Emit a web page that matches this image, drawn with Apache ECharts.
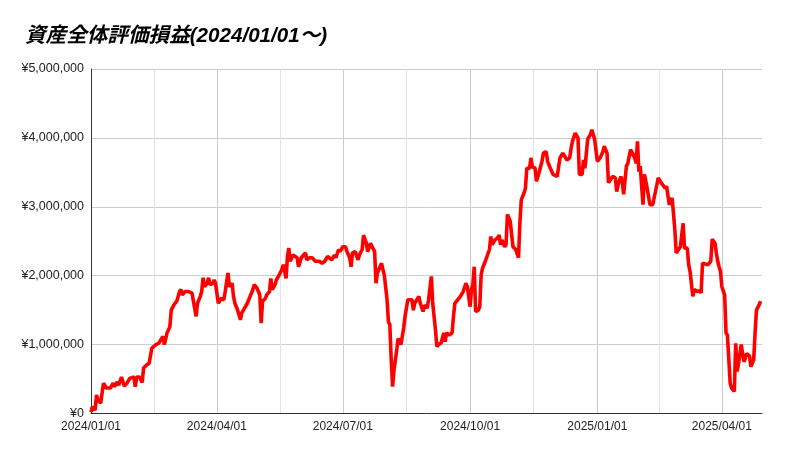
<!DOCTYPE html>
<html>
<head>
<meta charset="utf-8">
<script src="https://cdn.jsdelivr.net/npm/echarts@6/dist/echarts.min.js"></script>
<style>
html,body{margin:0;padding:0;background:#fff;}
#c{width:785px;height:457px;}
</style>
</head>
<body>
<div id="c"></div>
<script>
const titleText = '資産全体評価損益(2024/01/01～)';

const dates = [
'2024-01-01','2024-01-02','2024-01-04','2024-01-05','2024-01-06','2024-01-08','2024-01-10','2024-01-12','2024-01-13','2024-01-15','2024-01-17','2024-01-18','2024-01-20','2024-01-21','2024-01-23','2024-01-25','2024-01-27','2024-01-29',
'2024-02-01','2024-02-02','2024-02-03','2024-02-05','2024-02-07','2024-02-08','2024-02-10','2024-02-12','2024-02-14','2024-02-15','2024-02-17','2024-02-19','2024-02-20','2024-02-22','2024-02-23','2024-02-25','2024-02-27','2024-02-28',
'2024-03-01','2024-03-03','2024-03-05','2024-03-06','2024-03-07','2024-03-09','2024-03-11','2024-03-12','2024-03-14','2024-03-15','2024-03-17','2024-03-18','2024-03-20','2024-03-21','2024-03-22','2024-03-23','2024-03-25','2024-03-26','2024-03-27','2024-03-29','2024-03-30','2024-03-31',
'2024-04-02','2024-04-04','2024-04-06','2024-04-07','2024-04-09','2024-04-10','2024-04-12','2024-04-13','2024-04-14','2024-04-16','2024-04-18','2024-04-19','2024-04-21','2024-04-23','2024-04-25','2024-04-27','2024-04-28','2024-04-30',
'2024-05-02','2024-05-03','2024-05-04','2024-05-06','2024-05-07','2024-05-09','2024-05-10','2024-05-11','2024-05-13','2024-05-14','2024-05-16','2024-05-18','2024-05-19','2024-05-21','2024-05-22','2024-05-23','2024-05-24','2024-05-26','2024-05-27','2024-05-29','2024-05-30',
'2024-06-01','2024-06-02','2024-06-04','2024-06-05','2024-06-07','2024-06-09','2024-06-11','2024-06-12','2024-06-14','2024-06-16','2024-06-18','2024-06-20','2024-06-21','2024-06-23','2024-06-25','2024-06-26','2024-06-28','2024-06-29',
'2024-07-01','2024-07-03','2024-07-04','2024-07-06','2024-07-07','2024-07-08','2024-07-10','2024-07-12','2024-07-13','2024-07-15','2024-07-16','2024-07-18','2024-07-19','2024-07-21','2024-07-22','2024-07-24','2024-07-25','2024-07-26','2024-07-27','2024-07-29','2024-07-30','2024-07-31',
'2024-08-02','2024-08-03','2024-08-04','2024-08-05','2024-08-06','2024-08-07','2024-08-09','2024-08-10','2024-08-12','2024-08-14','2024-08-15','2024-08-17','2024-08-18','2024-08-20','2024-08-21','2024-08-22','2024-08-23','2024-08-25','2024-08-26','2024-08-28','2024-08-29','2024-08-31',
'2024-09-01','2024-09-02','2024-09-03','2024-09-04','2024-09-06','2024-09-07','2024-09-08','2024-09-10','2024-09-12','2024-09-13','2024-09-14','2024-09-16','2024-09-18','2024-09-19','2024-09-20','2024-09-22','2024-09-24','2024-09-26','2024-09-28','2024-09-29',
'2024-10-01','2024-10-02','2024-10-03','2024-10-04','2024-10-05','2024-10-07','2024-10-08','2024-10-09','2024-10-10','2024-10-12','2024-10-13','2024-10-15','2024-10-16','2024-10-17','2024-10-19','2024-10-21','2024-10-22','2024-10-23','2024-10-24','2024-10-26','2024-10-27','2024-10-28','2024-10-30','2024-10-31',
'2024-11-01','2024-11-03','2024-11-05','2024-11-06','2024-11-07','2024-11-09','2024-11-10','2024-11-11','2024-11-13','2024-11-14','2024-11-15','2024-11-17','2024-11-18','2024-11-20','2024-11-22','2024-11-23','2024-11-25','2024-11-26','2024-11-28','2024-11-30',
'2024-12-01','2024-12-03','2024-12-04','2024-12-05','2024-12-07','2024-12-08','2024-12-10','2024-12-12','2024-12-13','2024-12-14','2024-12-16','2024-12-18','2024-12-19','2024-12-21','2024-12-22','2024-12-23','2024-12-25','2024-12-27','2024-12-28','2024-12-30',
'2025-01-01','2025-01-03','2025-01-05','2025-01-06','2025-01-08','2025-01-09','2025-01-10','2025-01-12','2025-01-14','2025-01-15','2025-01-16','2025-01-18','2025-01-19','2025-01-20','2025-01-22','2025-01-23','2025-01-25','2025-01-26','2025-01-28','2025-01-29','2025-01-30','2025-01-31',
'2025-02-01','2025-02-02','2025-02-03','2025-02-04','2025-02-06','2025-02-07','2025-02-08','2025-02-10','2025-02-11','2025-02-13','2025-02-14','2025-02-16','2025-02-17','2025-02-19','2025-02-20','2025-02-22','2025-02-24','2025-02-25','2025-02-26','2025-02-27','2025-02-28',
'2025-03-02','2025-03-04','2025-03-05','2025-03-07','2025-03-08','2025-03-09','2025-03-10','2025-03-11','2025-03-12','2025-03-14','2025-03-16','2025-03-17','2025-03-18','2025-03-20','2025-03-22','2025-03-24','2025-03-25','2025-03-27','2025-03-28','2025-03-29','2025-03-30','2025-03-31',
'2025-04-01','2025-04-03','2025-04-04','2025-04-05','2025-04-07','2025-04-08','2025-04-10','2025-04-11','2025-04-12','2025-04-13','2025-04-14','2025-04-15','2025-04-16','2025-04-17','2025-04-19','2025-04-20','2025-04-21','2025-04-22','2025-04-24','2025-04-25','2025-04-26','2025-04-27','2025-04-28','2025-04-29'
];

const values = [
20000,100000,50000,270000,200000,150000,440000,370000,390000,370000,440000,390000,460000,410000,530000,400000,440000,510000,
530000,390000,530000,530000,450000,660000,700000,730000,950000,970000,1000000,1020000,1000000,1120000,1000000,1170000,1260000,1500000,
1580000,1630000,1770000,1800000,1720000,1770000,1770000,1750000,1750000,1630000,1410000,1600000,1700000,1770000,1970000,1840000,1890000,1970000,1870000,1890000,1940000,1890000,
1600000,1670000,1650000,1770000,2040000,1840000,1890000,1700000,1600000,1500000,1360000,1460000,1530000,1600000,1700000,1800000,1870000,1820000,
1720000,1310000,1630000,1670000,1720000,1770000,1960000,1800000,1870000,1940000,2010000,2090000,2160000,1960000,2280000,2400000,2210000,2300000,2280000,2260000,2130000,
2260000,2280000,2330000,2230000,2260000,2260000,2210000,2230000,2210000,2180000,2210000,2280000,2300000,2230000,2300000,2260000,2380000,2350000,
2420000,2420000,2350000,2260000,2130000,2330000,2350000,2230000,2300000,2380000,2590000,2470000,2350000,2470000,2470000,2350000,1890000,2040000,2040000,2180000,2090000,2010000,
1650000,1330000,1290000,780000,390000,630000,920000,1090000,1000000,1240000,1410000,1650000,1670000,1650000,1500000,1600000,1620000,1700000,1600000,1480000,1570000,1530000,
1650000,1670000,1990000,1600000,1210000,970000,1000000,1020000,1170000,1040000,1170000,1140000,1170000,1410000,1600000,1650000,1700000,1770000,1890000,1840000,
1550000,1800000,1870000,2130000,1480000,1500000,1550000,2010000,2110000,2210000,2230000,2380000,2570000,2450000,2520000,2550000,2590000,2450000,2520000,2420000,2450000,2890000,2790000,2810000,
2420000,2380000,2260000,2760000,3100000,3200000,3270000,3560000,3560000,3710000,3580000,3560000,3370000,3510000,3660000,3780000,3800000,3660000,3560000,3470000,
3490000,3440000,3580000,3710000,3780000,3760000,3680000,3710000,3850000,3950000,4070000,4000000,3470000,3470000,3680000,3560000,3980000,4050000,4120000,3980000,
3660000,3710000,3800000,3880000,3780000,3350000,3350000,3440000,3420000,3220000,3320000,3440000,3370000,3180000,3590000,3630000,3830000,3850000,3710000,3630000,3950000,3510000,
3590000,3300000,3030000,3470000,3270000,3250000,3030000,3030000,3010000,3320000,3420000,3350000,3350000,3270000,3300000,3030000,3130000,2910000,2670000,2330000,2350000,
2420000,2760000,2400000,2400000,2160000,2060000,2040000,1700000,1800000,1770000,1780000,1750000,2180000,2170000,2160000,2210000,2530000,2470000,2330000,2210000,2130000,2060000,
1840000,1720000,1170000,1140000,440000,370000,320000,1020000,610000,720000,700000,1000000,870000,750000,870000,850000,830000,680000,780000,1170000,1500000,1500000,1580000,1630000
];

const labelDates = ['2024-01-01','2024-04-01','2024-07-01','2024-10-01','2025-01-01','2025-04-01'];
const axisStart = '2024-01-01';
const axisEnd = '2025-04-30';
const yMin = 0, yMax = 5000000, yStep = 1000000;

function dayNum(s) {
  const p = s.split('-').map(Number);
  const base = Date.UTC(+axisStart.slice(0,4), +axisStart.slice(5,7) - 1, +axisStart.slice(8,10));
  return Math.round((Date.UTC(p[0], p[1] - 1, p[2]) - base) / 86400000);
}
const labelDays = labelDates.map(dayNum);
const tickDays = [];
labelDays.forEach((d, i) => {
  tickDays.push(d);
  if (i < labelDays.length - 1) tickDays.push((d + labelDays[i + 1]) / 2);
});
const seriesData = dates.map((d, i) => [dayNum(d), values[i]]);

function yen(v) {
  return '¥' + String(Math.round(v)).replace(/\B(?=(\d{3})+(?!\d))/g, ',');
}

const chart = echarts.init(document.getElementById('c'), null, {renderer: 'canvas'});
chart.setOption({
  animation: false,
  backgroundColor: '#ffffff',
  title: {
    text: titleText,
    left: 20,
    top: 21,
    textStyle: {
      fontSize: 20.6,
      fontWeight: 'bold',
      fontStyle: 'italic',
      color: '#000',
      fontFamily: '"Liberation Sans", Arial, "Noto Sans CJK JP", sans-serif'
    }
  },
  grid: {
    left: 91, right: 23, top: 69, bottom: 43.5,
    containLabel: false,
    outerBoundsMode: 'none'
  },
  xAxis: {
    type: 'value',
    min: 0,
    max: dayNum(axisEnd),
    axisLine: {show: true, lineStyle: {color: '#333', width: 1}},
    axisTick: {show: false, customValues: tickDays},
    axisLabel: {
      customValues: labelDays,
      color: '#222',
      fontSize: 12,
      margin: 7,
      fontFamily: '"Liberation Sans", Arial, sans-serif',
      formatter: function (v) {
        const i = labelDays.indexOf(Math.round(v));
        return i >= 0 ? labelDates[i].replace(/-/g, '/') : '';
      }
    },
    splitLine: {show: true, lineStyle: {color: ['#cccccc', '#e3e3e3'], width: 1}}
  },
  yAxis: {
    type: 'value',
    min: yMin,
    max: yMax,
    interval: yStep,
    axisLine: {show: true, lineStyle: {color: '#333', width: 1}},
    axisTick: {show: false},
    axisLabel: {
      color: '#222',
      fontSize: 12.5,
      margin: 7,
      fontFamily: '"Liberation Sans", Arial, sans-serif',
      formatter: yen
    },
    splitLine: {show: true, lineStyle: {color: '#cccccc', width: 1}}
  },
  series: [{
    type: 'line',
    data: seriesData,
    showSymbol: false,
    symbol: 'none',
    smooth: false,
    lineStyle: {color: '#ff0000', width: 3.6},
    z: 3
  }]
});
</script>
</body>
</html>
